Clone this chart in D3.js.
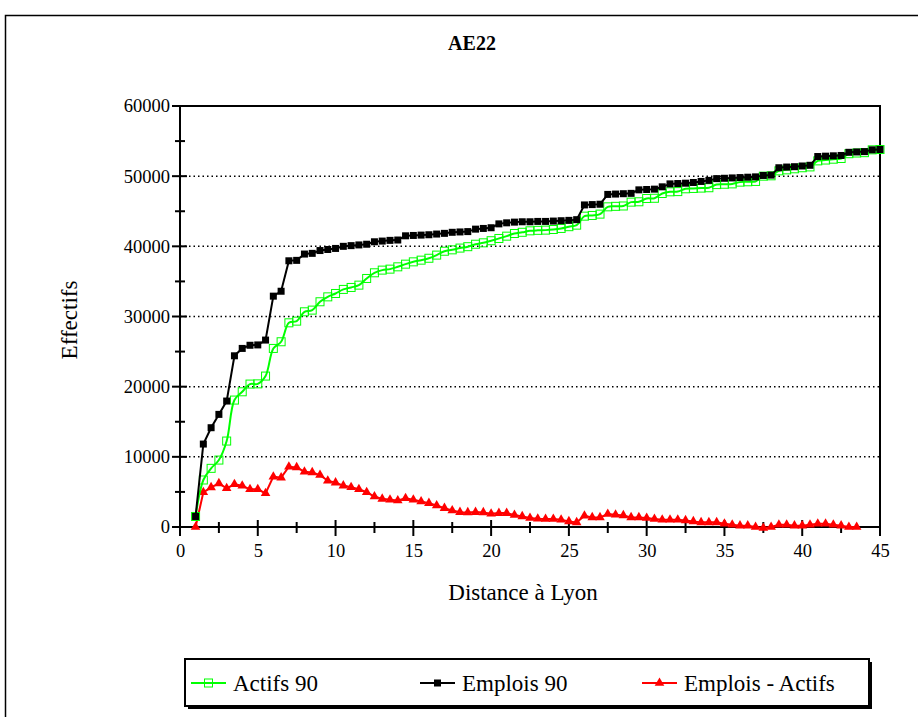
<!DOCTYPE html>
<html><head><meta charset="utf-8">
<script src="https://cdn.jsdelivr.net/npm/d3@7"></script>
<style>body{margin:0;background:#fff}svg{display:block}</style>
</head><body>
<script>
const title = "AE22";
const xLabel = "Distance à Lyon";
const yLabel = "Effectifs";
const xTicks = [0,5,10,15,20,25,30,35,40,45];
const yTicks = [0,10000,20000,30000,40000,50000,60000];
const seriesNames = ["Actifs 90","Emplois 90","Emplois - Actifs"];

const distances = [1,1.5,2,2.5,3,3.5,4,4.5,5,5.5,6,6.5,7,7.5,8,8.5,9,9.5,10,10.5,11,11.5,12,12.5,13,13.5,14,14.5,15,15.5,16,16.5,17,17.5,18,18.5,19,19.5,20,20.5,21,21.5,22,22.5,23,23.5,24,24.5,25,25.5,26,26.5,27,27.5,28,28.5,29,29.5,30,30.5,31,31.5,32,32.5,33,33.5,34,34.5,35,35.5,36,36.5,37,37.5,38,38.5,39,39.5,40,40.5,41,41.5,42,42.5,43,43.5,44,44.5,45];

const actifs = [1500,6700,8360,9540,12250,18090,19270,20370,20400,21510,25450,26400,29100,29340,30670,30910,32100,32800,33280,33860,34140,34470,35420,36230,36610,36750,37080,37460,37790,38030,38300,38750,39300,39500,39750,39950,40300,40500,40800,41120,41450,41830,42000,42210,42280,42310,42400,42550,42800,43020,44300,44400,44590,45630,45700,45750,46300,46350,46820,46850,47530,47770,47800,48200,48250,48300,48350,48800,48850,48900,49150,49200,49250,50000,50050,50760,50900,51050,51200,51320,52180,52300,52420,52520,53200,53300,53350,53750,53800];

const emplois = [1500,11820,14150,16050,17950,24400,25450,25900,25950,26640,32900,33600,37940,38000,38900,39000,39400,39550,39700,40000,40100,40200,40300,40650,40750,40850,40900,41500,41550,41600,41650,41750,41850,42000,42050,42100,42450,42550,42650,43200,43350,43450,43500,43500,43550,43550,43600,43650,43700,43800,45900,45950,46000,47400,47450,47500,47550,48050,48100,48150,48480,48900,48950,49000,49100,49250,49400,49650,49700,49750,49800,49850,49900,50100,50150,51200,51300,51350,51450,51550,52800,52850,52900,52950,53400,53450,53500,53750,53800];

const difference = [0,4940,5650,6220,5510,6080,5880,5370,5370,4800,7170,7030,8590,8500,7880,7780,7400,6600,6320,5900,5660,5380,4950,4340,4010,3870,3770,4100,3870,3630,3400,3070,2690,2360,2120,2080,2120,2080,1890,1980,1980,1700,1510,1270,1180,1130,1130,1040,800,660,1600,1370,1370,1840,1750,1650,1370,1370,1270,1130,1040,1040,1040,940,800,660,660,660,470,330,190,190,0,-140,0,330,330,190,190,330,470,470,330,190,0,0];

const FONT = "'Liberation Serif', 'Times New Roman', Times, serif";
const W = 918, H = 717;
const svg = d3.select("body").append("svg").attr("width", W).attr("height", H)
  .style("font-family", FONT);

// outer frame
svg.append("path").attr("d", `M5.5,${H} L5.5,15.5 L${W},15.5`).attr("fill","none").attr("stroke","#000").attr("stroke-width",1.5);

const x = d3.scaleLinear().domain([0,45]).range([180,880]);
const y = d3.scaleLinear().domain([0,60000]).range([527,106]);

// title
svg.append("text").attr("x",472).attr("y",50).attr("text-anchor","middle")
  .style("font-family",FONT).attr("font-weight","bold").attr("font-size",20).text(title);

// grid
svg.append("g").selectAll("line").data(yTicks.filter(v=>v>0 && v<60000)).join("line")
  .attr("x1",180).attr("x2",880).attr("y1",d=>y(d)).attr("y2",d=>y(d))
  .attr("stroke","#000").attr("stroke-width",1.5).attr("stroke-dasharray","1.5,3");

// plot border
svg.append("rect").attr("x",180).attr("y",106).attr("width",700).attr("height",421)
  .attr("fill","none").attr("stroke","#000").attr("stroke-width",2);

// y axis ticks (major + minor)
const yAll = d3.range(0,60001,5000);
svg.append("g").selectAll("line").data(yAll).join("line")
  .attr("x1",d=>d%10000===0?172:175).attr("x2",d=>d%10000===0?187:185)
  .attr("y1",d=>y(d)).attr("y2",d=>y(d)).attr("stroke","#000").attr("stroke-width",2);
const yAxis = d3.axisLeft(y).tickValues(yTicks).tickSize(0).tickPadding(10).tickFormat(d3.format("d"));
const gy = svg.append("g").attr("transform","translate(180,0)").call(yAxis);
gy.attr("font-family", null);
gy.select(".domain").remove();
gy.selectAll("text").style("font-family",FONT).attr("font-size",18.5).attr("fill","#000");

// x axis ticks
const xAll = d3.range(0,45.01,2.5);
svg.append("g").selectAll("line").data(xAll).join("line")
  .attr("x1",d=>x(d)).attr("x2",d=>x(d))
  .attr("y1",d=>d%5===0?520:522).attr("y2",d=>d%5===0?536:533)
  .attr("stroke","#000").attr("stroke-width",2);
const xAxis = d3.axisBottom(x).tickValues(xTicks).tickSize(0).tickPadding(17);
const gx = svg.append("g").attr("transform","translate(0,527)").call(xAxis);
gx.attr("font-family", null);
gx.select(".domain").remove();
gx.selectAll("text").style("font-family",FONT).attr("font-size",18.5).attr("fill","#000");

// axis labels
svg.append("text").attr("x",523).attr("y",600).attr("text-anchor","middle").style("font-family",FONT).attr("font-size",23).text(xLabel);
svg.append("text").attr("transform","translate(77,320) rotate(-90)").attr("text-anchor","middle").style("font-family",FONT).attr("font-size",23).text(yLabel);

const plot = svg.append("g");
const dataG = d3.zip(distances, actifs);
const dataE = d3.zip(distances, emplois);
const dataD = d3.zip(distances.slice(0,difference.length), difference);

const lineStraight = d3.line().x(d=>x(d[0])).y(d=>y(d[1]));
const lineSmooth = d3.line().x(d=>x(d[0])).y(d=>y(d[1])).curve(d3.curveCatmullRom.alpha(0.5));

// red series
plot.append("path").datum(dataD).attr("d",lineStraight).attr("fill","none").attr("stroke","#ff0000").attr("stroke-width",2);
plot.append("g").selectAll("path").data(dataD).join("path")
  .attr("transform",d=>`translate(${x(d[0])},${y(d[1])})`)
  .attr("d",d3.symbol(d3.symbolTriangle,40)).attr("fill","#ff0000");

// green series
plot.append("path").datum(dataG).attr("d",lineSmooth).attr("fill","none").attr("stroke","#00ff00").attr("stroke-width",2);
plot.append("g").selectAll("rect").data(dataG).join("rect")
  .attr("x",d=>x(d[0])-4).attr("y",d=>y(d[1])-4).attr("width",8).attr("height",8)
  .attr("fill","none").attr("stroke","#00ff00").attr("stroke-width",1);

// black series
plot.append("path").datum(dataE).attr("d",lineStraight).attr("fill","none").attr("stroke","#000").attr("stroke-width",2);
plot.append("g").selectAll("rect").data(dataE).join("rect")
  .attr("x",d=>x(d[0])-3.5).attr("y",d=>y(d[1])-3.5).attr("width",7).attr("height",7)
  .attr("fill","#000");

// legend
const lg = svg.append("g");
lg.append("rect").attr("x",188).attr("y",662).attr("width",684).attr("height",47).attr("fill","#000");
lg.append("rect").attr("x",185).attr("y",659).attr("width",684).attr("height",47).attr("fill","#fff").attr("stroke","#000").attr("stroke-width",2);
const items = [
  {name:seriesNames[0], x0:191, color:"#00ff00", sym:"openSquare"},
  {name:seriesNames[1], x0:420, color:"#000", sym:"square"},
  {name:seriesNames[2], x0:642, color:"#ff0000", sym:"triangle"}
];
const ly = 683;
items.forEach(it=>{
  lg.append("line").attr("x1",it.x0).attr("x2",it.x0+35).attr("y1",ly).attr("y2",ly).attr("stroke",it.color).attr("stroke-width",2);
  const cx = it.x0+17.5;
  if(it.sym==="openSquare") lg.append("rect").attr("x",cx-4).attr("y",ly-4).attr("width",8).attr("height",8).attr("fill","none").attr("stroke",it.color);
  else if(it.sym==="square") lg.append("rect").attr("x",cx-3.5).attr("y",ly-3.5).attr("width",7).attr("height",7).attr("fill",it.color);
  else lg.append("path").attr("transform",`translate(${cx},${ly})`).attr("d",d3.symbol(d3.symbolTriangle,40)).attr("fill",it.color);
  lg.append("text").attr("x",it.x0+42).attr("y",ly+8).style("font-family",FONT).attr("font-size",23).text(it.name);
});
</script>
</body></html>
